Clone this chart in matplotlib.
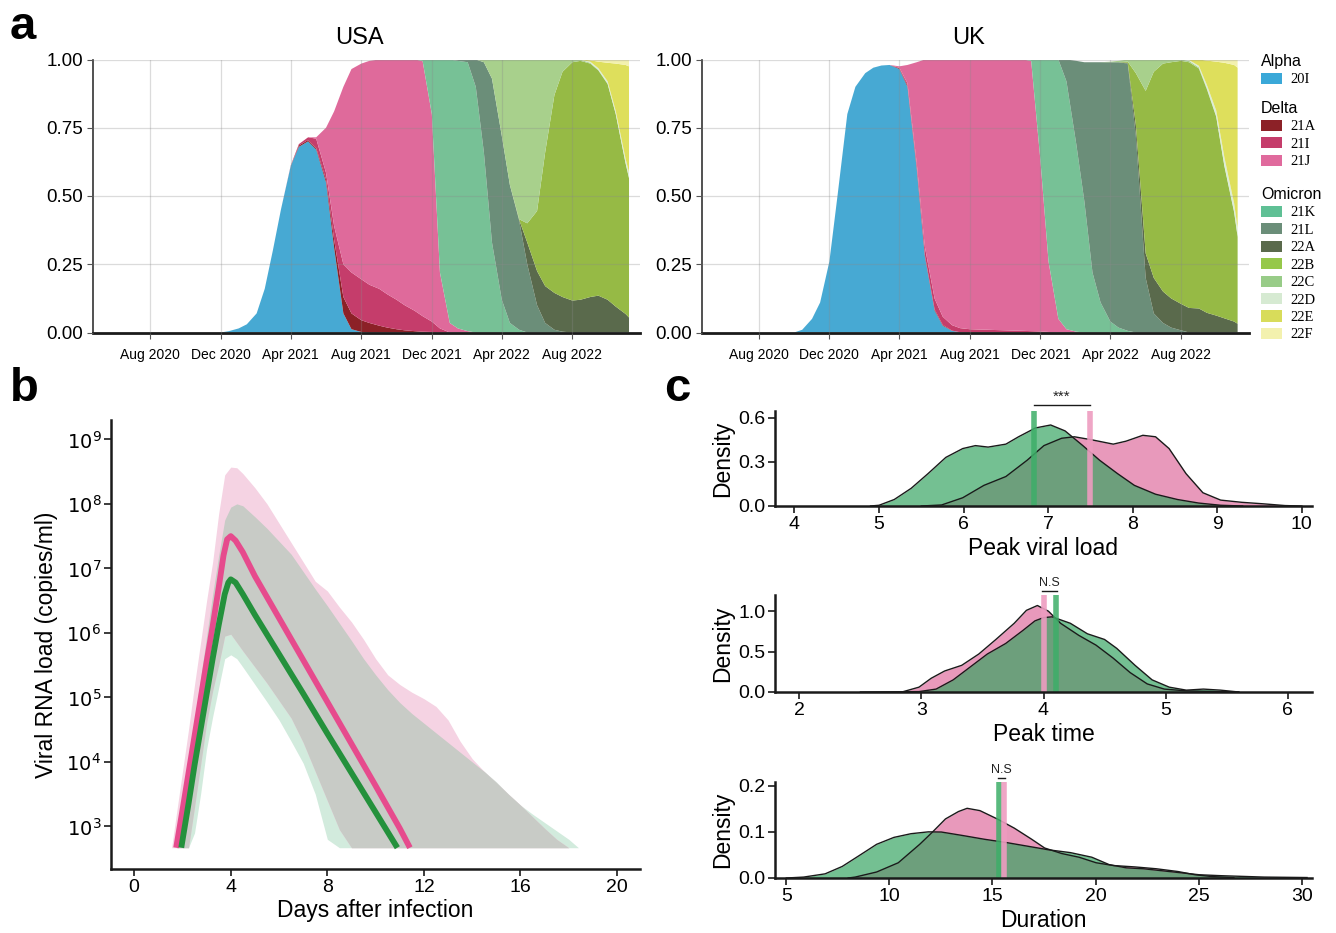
import numpy as np
import pandas as pd
import matplotlib
matplotlib.use('Agg')
import matplotlib.pyplot as plt
import matplotlib.transforms as mtransforms
from matplotlib.patches import Patch

plt.rcParams['font.family'] = ['Liberation Sans', 'DejaVu Sans']

# ---------------- panel a : clade shares (semi-monthly) ----------------
dates = list(pd.date_range('2020-10-01', '2022-11-01', freq='SMS')) + [pd.Timestamp('2022-11-07')]

clades = ['20I', '21A', '21I', '21J', '21K', '21L', '22A', '22B', '22C', '22D', '22E', '22F']
clade_colors = ['#47A9D3', '#8C2127', '#C53D6B', '#DF6A9B', '#77C196', '#6B8E79',
                '#5A6A4C', '#96BA45', '#A8D08C', '#DCEDD6', '#DEDF5C', '#F3F1AE']
legend_colors = ['#3AA8D8', '#8C2127', '#C53D6B', '#E06A9D', '#5FC095', '#6B8E79',
                 '#5A6A4C', '#96C84A', '#98CC88', '#D6EAD2', '#D8DC5A', '#F3F1AE']

usa_20I = [0] * 5 + [.005, .015, .03, .07, .16, .30, .45, .61, .68, .70, .67, .55, .31, .07, .012, .002] + [0] * 31
usa_21A = [0] * 13 + [.005, .005, .005, .01, .03, .06, .058, .043, .035, .025, .018, .012, .008, .005, .003, .002] + [0] * 23
usa_21I = [0] * 12 + [.002, .005, .01, .035, .025, .05, .12, .15, .15, .14, .135, .122, .108, .092, .075, .057, .038, .015] + [0] * 22
usa_21J = [0] * 15 + [.005, .165, .42, .65, .745, .79, .82, .84, .86, .88, .90, .92, .935, .76, .205, .035, .015, .005] + [0] * 19
usa_21K = [0] * 27 + [.005, .2, .78, .965, .98, .985, .90, .66, .33, .12, .035, .01] + [0] * 13
usa_21L = [0] * 31 + [.005, .01, .10, .33, .60, .60, .505, .40, .25, .10, .035, .01, .003] + [0] * 8
usa_22A = [0] * 38 + [.003, .08, .125, .135, .135, .127, .117, .12, .13, .135, .12, .095, .068, .055]
usa_22B = [0] * 38 + [.002, .07, .22, .49, .725, .825, .873, .875, .855, .825, .79, .705, .552, .51]
usa_22C = [0] * 34 + [.01, .07, .28, .46, .585, .60, .555, .34, .13, .045, .01, .004, .003, .002, .002, .002, .002, .002]
usa_22D = [0] * 46 + [.004, .006, .008, .01, .015, .02]
usa_22E = [0] * 45 + [.001, .005, .024, .068, .173, .343, .388]
usa_22F = [0] * 46 + [.003, .008, .012, .015, .02, .025]

uk_20I = [0, .01, .05, .11, .26, .50, .80, .90, .95, .97, .978, .98, .965, .90, .60, .28, .08, .025, .006, .001] + [0] * 32
uk_21A = [0] * 12 + [.003, .005, .006, .005, .004, .003, .001] + [0] * 33
uk_21I = [0] * 12 + [.002, .008, .015, .03, .04, .03, .02, .015, .012, .011, .01, .009, .008, .007, .006, .005, .004, .002] + [0] * 22
uk_21J = [0] * 12 + [.005, .067, .369, .685, .876, .942, .973, .984, .988, .989, .99, .991, .992, .993, .994, .99, .626, .258, .05, .012, .003] + [0] * 19
uk_21K = [0] * 27 + [.005, .37, .74, .95, .908, .687, .48, .22, .11, .04, .018, .006] + [0] * 13
uk_21L = [0] * 31 + [.08, .305, .51, .77, .88, .95, .972, .979, .72, .2, .07, .035, .018, .008] + [0] * 7
uk_22A = [0] * 38 + [.003, .04, .09, .13, .115, .107, .097, .09, .088, .072, .062, .052, .04, .032]
uk_22B = [0] * 38 + [.004, .19, .595, .755, .835, .865, .89, .90, .879, .818, .728, .558, .40, .318]
uk_22C = [0] * 36 + [.002, .005, .008, .05, .115, .045, .015, .01, .005, .005, .004, .004, .003, .003, .003, .003]
uk_22D = [0] * 45 + [.003, .006, .012, .02, .03, .03, .03]
uk_22E = [0] * 45 + [.002, .023, .09, .179, .345, .507, .587]
uk_22F = [0] * 46 + [0, .004, .008, .012, .02, .03]

usa_shares = [usa_20I, usa_21A, usa_21I, usa_21J, usa_21K, usa_21L,
              usa_22A, usa_22B, usa_22C, usa_22D, usa_22E, usa_22F]
uk_shares = [uk_20I, uk_21A, uk_21I, uk_21J, uk_21K, uk_21L,
             uk_22A, uk_22B, uk_22C, uk_22D, uk_22E, uk_22F]

# ---------------- panel b : viral load (log10 copies/ml) ----------------
band_days = [1.55, 1.75, 2.0, 2.25, 2.5, 2.75, 3.0, 3.25, 3.5, 3.75, 4.0, 4.25, 4.5, 5.0, 5.5,
             6.0, 6.5, 7.0, 7.5, 8.0, 8.5, 9.0, 9.5, 10.0, 10.5, 11.0, 11.5, 12.0, 12.5, 13.0,
             13.5, 14.0, 14.5, 15.0, 15.5, 16.0, 16.5, 17.0, 17.5, 18.0, 18.4]
delta_hi = [2.67, 3.2, 3.85, 4.5, 5.2, 5.85, 6.5, 7.1, 7.85, 8.45, 8.57, 8.56, 8.47, 8.25, 8.0,
            7.7, 7.4, 7.1, 6.8, 6.65, 6.4, 6.17, 5.9, 5.6, 5.35, 5.2, 5.08, 4.98, 4.86, 4.65,
            4.32, 4.05, 3.85, 3.68, 3.5, 3.33, 3.15, 2.97, 2.8, 2.67, 2.67]
delta_lo = [2.67, 2.67, 2.67, 2.67, 3.3, 3.95, 4.6, 5.1, 5.5, 5.95, 5.98, 5.85, 5.72, 5.47, 5.22,
            4.95, 4.68, 4.3, 3.85, 3.4, 2.95, 2.67] + [2.67] * 19
omicron_hi = [2.67, 2.67, 3.4, 4.0, 4.65, 5.3, 5.95, 6.6, 7.2, 7.75, 7.95, 8.0, 7.97, 7.8, 7.62,
              7.42, 7.22, 6.95, 6.68, 6.42, 6.15, 5.88, 5.6, 5.35, 5.12, 4.92, 4.75, 4.6, 4.45, 4.3,
              4.15, 4.0, 3.85, 3.69, 3.5, 3.33, 3.19, 3.06, 2.93, 2.8, 2.67]
omicron_lo = [2.67, 2.67, 2.67, 2.67, 2.9, 3.5, 4.2, 4.7, 5.15, 5.6, 5.66, 5.6, 5.47, 5.2, 4.93,
              4.65, 4.32, 3.98, 3.5, 2.8, 2.67] + [2.67] * 20

delta_line_days = [1.74, 2.0, 2.5, 3.0, 3.25, 3.5, 3.7, 3.85, 4.0, 4.2, 4.5, 5.0, 6.0, 7.0, 8.0, 9.0, 10.0, 11.0, 11.42]
delta_line_log = [2.67, 3.25, 4.4, 5.55, 6.1, 6.7, 7.2, 7.45, 7.5, 7.43, 7.25, 6.88, 6.23, 5.58, 4.93, 4.28, 3.63, 2.97, 2.67]
omicron_line_days = [1.95, 2.25, 2.5, 3.0, 3.25, 3.5, 3.75, 3.9, 4.0, 4.2, 4.5, 5.0, 6.0, 7.0, 8.0, 9.0, 10.0, 10.9]
omicron_line_log = [2.67, 3.35, 3.95, 5.05, 5.6, 6.12, 6.6, 6.78, 6.83, 6.78, 6.6, 6.28, 5.67, 5.06, 4.44, 3.83, 3.22, 2.67]

# ---------------- panel c : densities ----------------
pvl_x_delta = [5.5, 5.74, 5.99, 6.24, 6.5, 6.75, 6.95, 7.16, 7.31, 7.51, 7.77, 7.92, 8.12, 8.27, 8.43, 8.63, 8.83, 9.04, 9.29, 9.54, 9.8, 10.0]
pvl_y_delta = [0, 0.007, 0.056, 0.14, 0.20, 0.31, 0.41, 0.46, 0.47, 0.45, 0.42, 0.44, 0.48, 0.47, 0.39, 0.22, 0.09, 0.04, 0.025, 0.015, 0.003, 0]
pvl_x_omicron = [4.9, 5.0, 5.18, 5.38, 5.58, 5.79, 5.99, 6.14, 6.29, 6.5, 6.65, 6.85, 7.03, 7.2, 7.41, 7.61, 7.82, 8.02, 8.27, 8.53, 8.78, 9.04, 9.3]
pvl_y_omicron = [0, 0.005, 0.044, 0.12, 0.22, 0.33, 0.39, 0.41, 0.40, 0.42, 0.47, 0.53, 0.55, 0.51, 0.41, 0.31, 0.22, 0.14, 0.08, 0.044, 0.02, 0.005, 0]

pt_x_delta = [2.84, 2.98, 3.08, 3.19, 3.33, 3.47, 3.61, 3.76, 3.86, 3.95, 4.04, 4.14, 4.29, 4.43, 4.57, 4.71, 4.85, 4.99, 5.17, 5.45, 5.6]
pt_y_delta = [0, 0.06, 0.17, 0.26, 0.33, 0.47, 0.65, 0.85, 1.01, 1.07, 1.0, 0.85, 0.70, 0.58, 0.42, 0.24, 0.10, 0.036, 0.014, 0.005, 0]
pt_x_omicron = [2.5, 2.98, 3.12, 3.26, 3.40, 3.54, 3.69, 3.83, 3.93, 4.0, 4.07, 4.22, 4.36, 4.5, 4.6, 4.75, 4.89, 5.03, 5.17, 5.31, 5.45, 5.6]
pt_y_omicron = [0, 0.005, 0.036, 0.15, 0.31, 0.47, 0.60, 0.76, 0.88, 0.92, 0.93, 0.85, 0.72, 0.65, 0.54, 0.33, 0.15, 0.06, 0.023, 0.036, 0.023, 0]

dur_x_delta = [8.0, 8.34, 9.38, 10.43, 11.47, 12.1, 12.72, 13.35, 13.77, 14.39, 15.23, 16.06, 16.9, 17.53, 18.36, 19.2, 20.03, 20.87, 21.91, 22.95, 24.0, 24.83, 25.67, 26.71]
dur_y_delta = [0, 0.002, 0.013, 0.033, 0.073, 0.1, 0.128, 0.144, 0.151, 0.146, 0.128, 0.108, 0.084, 0.065, 0.053, 0.045, 0.033, 0.027, 0.024, 0.02, 0.014, 0.007, 0.003, 0.001]
dur_x_omicron = [5.0, 5.84, 6.88, 7.71, 8.55, 9.38, 10.22, 11.05, 11.89, 12.52, 13.56, 14.6, 15.65, 16.69, 17.73, 18.78, 19.82, 20.66, 21.49, 22.33, 23.16, 24.0, 25.04, 26.09, 28.17, 30.26]
dur_y_omicron = [0, 0.002, 0.009, 0.025, 0.049, 0.073, 0.088, 0.096, 0.1, 0.0996, 0.092, 0.084, 0.077, 0.069, 0.061, 0.055, 0.045, 0.029, 0.022, 0.02, 0.016, 0.012, 0.007, 0.005, 0.002, 0.001]

# group means (vertical bars) and test labels
pvl_means = {'omicron': 6.83, 'delta': 7.49}
pt_means = {'omicron': 4.1, 'delta': 4.0}
dur_means = {'omicron': 15.33, 'delta': 15.54}

W, H = 1336, 933
DARK = '#1a1a1a'


def box(left, top, right, bottom):
    return [left / W, 1 - bottom / H, (right - left) / W, (bottom - top) / H]


def plot_share(ax, shares, title):
    ax.stackplot(dates, shares, colors=clade_colors, linewidth=0)
    ax.set_xlim(pd.Timestamp('2020-04-24'), pd.Timestamp('2022-11-26'))
    ax.set_ylim(0, 1)
    ticks = pd.date_range('2020-08-01', '2022-08-01', freq='4MS')
    ax.set_xticks(ticks)
    ax.set_xticklabels([t.strftime('%b %Y') for t in ticks], fontsize=10)
    ax.set_yticks([0, .25, .5, .75, 1])
    ax.set_yticklabels(['0.00', '0.25', '0.50', '0.75', '1.00'], fontsize=13.5)
    ax.grid(color='#8a8a8a', alpha=0.3, lw=0.9)
    ax.set_axisbelow(False)
    for s in ['top', 'right']:
        ax.spines[s].set_visible(False)
    ax.spines['left'].set_color('#333333')
    ax.spines['left'].set_linewidth(1.2)
    ax.spines['bottom'].set_color(DARK)
    ax.spines['bottom'].set_linewidth(2)
    ax.tick_params(axis='both', length=4, width=0.8, color='#555555', pad=3)
    ax.tick_params(axis='x', pad=7)
    ax.set_title(title, fontsize=17, pad=11, x=0.488)


def style_axes(ax):
    for s in ['top', 'right']:
        ax.spines[s].set_visible(False)
    for s in ['left', 'bottom']:
        ax.spines[s].set_color(DARK)
        ax.spines[s].set_linewidth(1.8)
    ax.tick_params(axis='both', length=5, width=1.2, color=DARK, labelsize=14, pad=2)


fig = plt.figure(figsize=(W / 100, H / 100), dpi=100)

# ---- panel a
ax_usa = fig.add_axes(box(93, 59.5, 640, 332.5))
plot_share(ax_usa, usa_shares, 'USA')
ax_uk = fig.add_axes(box(701.6, 59.5, 1248.6, 332.5))
plot_share(ax_uk, uk_shares, 'UK')

groups = [('Alpha', [0], 54), ('Delta', [1, 2, 3], 101), ('Omicron', [4, 5, 6, 7, 8, 9, 10, 11], 187)]
for name, idx, top in groups:
    handles = [Patch(facecolor=legend_colors[i], edgecolor='none') for i in idx]
    fig.legend(handles, [clades[i] for i in idx], title=name, loc='upper left',
               bbox_to_anchor=(1261 / W, 1 - top / H), frameon=False,
               prop={'family': 'Liberation Serif', 'size': 10.5}, title_fontsize=11.5,
               handlelength=1.45, handleheight=0.8, handletextpad=0.55,
               labelspacing=0.26, borderpad=0, borderaxespad=0, alignment='left')

# ---- panel b
ax_b = fig.add_axes(box(111, 420, 640, 869))
ax_b.set_yscale('log')
bd = np.array(band_days)
d_lo, d_hi = 10 ** np.array(delta_lo), 10 ** np.array(delta_hi)
o_lo, o_hi = 10 ** np.array(omicron_lo), 10 ** np.array(omicron_hi)
ax_b.fill_between(bd, o_lo, o_hi, color='#D2EBDD', lw=0)
ax_b.fill_between(bd, d_lo, d_hi, color='#F5D3E3', lw=0)
ov_lo, ov_hi = np.maximum(o_lo, d_lo), np.minimum(o_hi, d_hi)
ax_b.fill_between(bd, ov_lo, ov_hi, where=ov_hi > ov_lo, color='#C8CBC6', lw=0, interpolate=True)
ax_b.plot(delta_line_days, 10 ** np.array(delta_line_log), color='#E64B8D', lw=4.2, solid_capstyle='butt')
ax_b.plot(omicron_line_days, 10 ** np.array(omicron_line_log), color='#24913C', lw=4.2, solid_capstyle='butt')
ax_b.set_xlim(-0.96, 20.95)
ax_b.set_ylim(10 ** 2.34, 10 ** 9.3)
ax_b.set_xticks([0, 4, 8, 12, 16, 20])
ax_b.set_yticks([10 ** k for k in range(3, 10)])
ax_b.set_yticklabels([r'$10^{%d}$' % k for k in range(3, 10)])
ax_b.minorticks_off()
style_axes(ax_b)
ax_b.set_xlabel('Days after infection', fontsize=16.5, labelpad=2)
ax_b.set_ylabel('Viral RNA load (copies/ml)', fontsize=16.5, labelpad=6)

# ---- panel c
PINK_FILL = (222 / 255, 105 / 255, 155 / 255)
GREEN_FILL = (51 / 255, 162 / 255, 94 / 255)


def density_panel(rect, xd, yd, xo, yo, means, xlim, ylim, xticks, yticks, ylabels, xlabel, label, bracket_y):
    ax = fig.add_axes(box(*rect))
    ax.fill_between(xd, yd, color=PINK_FILL, alpha=0.68, lw=0)
    ax.plot(xd, yd, color=DARK, lw=1)
    ax.fill_between(xo, yo, color=GREEN_FILL, alpha=0.68, lw=0)
    ax.plot(xo, yo, color=DARK, lw=1)
    ax.axvline(means['omicron'], color='#3DAE68', lw=4, alpha=0.85)
    ax.axvline(means['delta'], color='#EE9CC0', lw=4, alpha=0.9)
    ax.set_xlim(*xlim)
    ax.set_ylim(*ylim)
    ax.set_xticks(xticks)
    ax.set_yticks(yticks)
    ax.set_yticklabels(ylabels)
    style_axes(ax)
    ax.set_xlabel(xlabel, fontsize=16.5, labelpad=3)
    ax.set_ylabel('Density', fontsize=16.5, labelpad=3)
    trans = mtransforms.blended_transform_factory(ax.transData, ax.transAxes)
    lo, hi = sorted(means.values())
    pad = 0.03 * (xlim[1] - xlim[0]) / 10 if label != '***' else 0
    ax.plot([lo - pad, hi + pad], [bracket_y, bracket_y], transform=trans, clip_on=False, color=DARK, lw=1)
    ax.text((lo + hi) / 2, bracket_y + 0.02, label, transform=trans, ha='center', va='bottom',
            fontsize=11 if label == '***' else 9, color='#222222')
    return ax


density_panel((775, 411, 1312, 506), pvl_x_delta, pvl_y_delta, pvl_x_omicron, pvl_y_omicron,
              pvl_means, (3.77, 10.12), (0, 0.645), range(4, 11), [0, 0.3, 0.6],
              ['0.0', '0.3', '0.6'], 'Peak viral load', '***', 1.06)
density_panel((775, 595, 1312, 692), pt_x_delta, pt_y_delta, pt_x_omicron, pt_y_omicron,
              pt_means, (1.8, 6.2), (0, 1.2), range(2, 7), [0, 0.5, 1.0],
              ['0.0', '0.5', '1.0'], 'Peak time', 'N.S', 1.04)
density_panel((775, 782, 1312, 878), dur_x_delta, dur_y_delta, dur_x_omicron, dur_y_omicron,
              dur_means, (4.45, 30.5), (0, 0.208), range(5, 31, 5), [0, 0.1, 0.2],
              ['0.0', '0.1', '0.2'], 'Duration', 'N.S', 1.04)

# panel letters
fig.text(10 / W, 1 - 27 / H, 'a', fontsize=34, fontweight='bold', va='center', ha='left')
fig.text(10 / W, 1 - 389 / H, 'b', fontsize=34, fontweight='bold', va='center', ha='left')
fig.text(664 / W, 1 - 389 / H, 'c', fontsize=34, fontweight='bold', va='center', ha='left')

fig.savefig('out.png', dpi=100)
